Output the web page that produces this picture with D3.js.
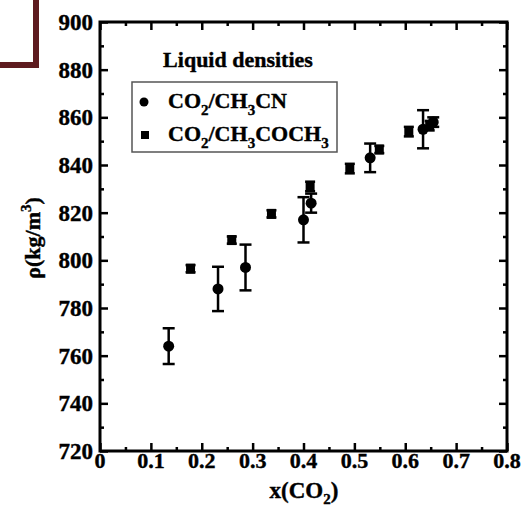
<!DOCTYPE html>
<html><head><meta charset="utf-8">
<script src="https://cdn.jsdelivr.net/npm/d3@7/dist/d3.min.js"></script>
<style>body{margin:0;background:#fff}svg{display:block}text{stroke:#000;stroke-width:0.4px}</style>
</head><body>
<svg id="c" width="526" height="511"></svg>
<script>
// Data: [x(CO2), density, error]
const acnX   = [0.135, 0.232, 0.286, 0.400, 0.415, 0.531, 0.635, 0.655];
const acnY   = [764, 788, 797, 817, 824, 843, 855, 858];
const acnErr = [7.5, 9.3, 9.6, 9.5, 4, 6, 8, 2];
const aceX   = [0.178, 0.259, 0.337, 0.413, 0.491, 0.549, 0.607, 0.648];
const aceY   = [796.5, 808.5, 819.5, 831, 838.5, 846.5, 854, 856.5];
const aceErr = [1.5, 1.5, 1.5, 2, 2, 1.5, 2, 2];
const xTicks = [0, 0.1, 0.2, 0.3, 0.4, 0.5, 0.6, 0.7, 0.8];
const yTicks = [720, 740, 760, 780, 800, 820, 840, 860, 880, 900];

const svg = d3.select("#c");
const L = 100, R = 507, T = 22, B = 451;
const x = d3.scaleLinear().domain([0, 0.8]).range([L, R]);
const y = d3.scaleLinear().domain([720, 900]).range([B, T]);
const font = "'Liberation Serif', 'Times New Roman', serif";

// red box top-left
svg.append("rect").attr("x", -5).attr("y", -5).attr("width", 41).attr("height", 70)
  .attr("fill", "none").attr("stroke", "#5e1b1f").attr("stroke-width", 6);

// axes with inward ticks
const xMinor = d3.range(0.05, 0.8, 0.1);
const yMinor = d3.range(730, 900, 20);
function ax(g, axis) { g.call(axis); g.select(".domain").remove(); g.selectAll("line").attr("stroke", "#000").attr("stroke-width", 2.5); }
ax(svg.append("g").attr("transform", `translate(0,${B})`), d3.axisBottom(x).tickValues(xTicks).tickSize(-8).tickFormat(""));
ax(svg.append("g").attr("transform", `translate(0,${B})`), d3.axisBottom(x).tickValues(xMinor).tickSize(-4).tickFormat(""));
ax(svg.append("g").attr("transform", `translate(0,${T})`), d3.axisTop(x).tickValues(xTicks).tickSize(-8).tickFormat(""));
ax(svg.append("g").attr("transform", `translate(0,${T})`), d3.axisTop(x).tickValues(xMinor).tickSize(-4).tickFormat(""));
ax(svg.append("g").attr("transform", `translate(${L},0)`), d3.axisLeft(y).tickValues(yTicks).tickSize(-8).tickFormat(""));
ax(svg.append("g").attr("transform", `translate(${L},0)`), d3.axisLeft(y).tickValues(yMinor).tickSize(-4).tickFormat(""));
ax(svg.append("g").attr("transform", `translate(${R},0)`), d3.axisRight(y).tickValues(yTicks).tickSize(-8).tickFormat(""));
ax(svg.append("g").attr("transform", `translate(${R},0)`), d3.axisRight(y).tickValues(yMinor).tickSize(-4).tickFormat(""));
svg.append("rect").attr("x", L).attr("y", T).attr("width", R - L).attr("height", B - T)
  .attr("fill", "none").attr("stroke", "#000").attr("stroke-width", 3);

// tick labels
svg.selectAll(".xl").data(xTicks).enter().append("text")
  .attr("x", d => x(d)).attr("y", 468).attr("text-anchor", "middle")
  .attr("font-family", font).attr("font-weight", "bold").attr("font-size", 22)
  .text(d => d === 0 ? "0" : d3.format(".1f")(d));
svg.selectAll(".yl").data(yTicks).enter().append("text")
  .attr("x", 93).attr("y", d => y(d) + 8).attr("text-anchor", "end")
  .attr("font-family", font).attr("font-weight", "bold").attr("font-size", 23)
  .text(d => d);

// axis titles
const xt = svg.append("text").attr("x", 304).attr("y", 498).attr("text-anchor", "middle")
  .attr("font-family", font).attr("font-weight", "bold").attr("font-size", 23);
xt.append("tspan").text("x(CO");
xt.append("tspan").attr("font-size", 15).attr("dy", 6).text("2");
xt.append("tspan").attr("dy", -6).text(")");
const yt = svg.append("text").attr("transform", "translate(40,238) rotate(-90)").attr("text-anchor", "middle")
  .attr("font-family", font).attr("font-weight", "bold").attr("font-size", 22);
yt.append("tspan").text("ρ(kg/m");
yt.append("tspan").attr("font-size", 15).attr("dy", -9).text("3");
yt.append("tspan").attr("dy", 9).text(")");

// error bars
function errBars(xs, ys, es, cap) {
  const g = svg.append("g").attr("stroke", "#000").attr("stroke-width", 2.5);
  xs.forEach((xv, i) => {
    const cx = x(xv), y1 = y(ys[i] + es[i]), y2 = y(ys[i] - es[i]);
    g.append("line").attr("x1", cx).attr("x2", cx).attr("y1", y1).attr("y2", y2);
    g.append("line").attr("x1", cx - cap).attr("x2", cx + cap).attr("y1", y1).attr("y2", y1);
    g.append("line").attr("x1", cx - cap).attr("x2", cx + cap).attr("y1", y2).attr("y2", y2);
  });
}
errBars(acnX, acnY, acnErr, 6);
errBars(aceX, aceY, aceErr, 5);
svg.append("g").selectAll("circle").data(acnX).enter().append("circle")
  .attr("cx", d => x(d)).attr("cy", (d, i) => y(acnY[i])).attr("r", 5.5).attr("fill", "#000");
svg.append("g").selectAll("rect").data(aceX).enter().append("rect")
  .attr("x", d => x(d) - 4.5).attr("y", (d, i) => y(aceY[i]) - 5).attr("width", 9).attr("height", 10).attr("fill", "#000");

// legend
svg.append("text").attr("x", 238).attr("y", 67).attr("text-anchor", "middle")
  .attr("font-family", font).attr("font-weight", "bold").attr("font-size", 22).text("Liquid densities");
svg.append("rect").attr("x", 132).attr("y", 82).attr("width", 205).attr("height", 70)
  .attr("fill", "#fff").attr("stroke", "#555").attr("stroke-width", 1.5);
svg.append("circle").attr("cx", 144).attr("cy", 102).attr("r", 4.5).attr("fill", "#000");
svg.append("rect").attr("x", 141).attr("y", 131).attr("width", 8).attr("height", 8).attr("fill", "#000");
function legText(yb, parts) {
  const t = svg.append("text").attr("x", 168).attr("y", yb)
    .attr("font-family", font).attr("font-weight", "bold").attr("font-size", 22);
  let sub = false;
  parts.forEach(p => {
    if (p.s) { t.append("tspan").attr("font-size", 15).attr("dy", sub ? 0 : 7).text(p.s); sub = true; }
    else { t.append("tspan").attr("dy", sub ? -7 : 0).text(p.t); sub = false; }
  });
}
legText(108, [{t: "CO"}, {s: "2"}, {t: "/CH"}, {s: "3"}, {t: "CN"}]);
legText(141, [{t: "CO"}, {s: "2"}, {t: "/CH"}, {s: "3"}, {t: "COCH"}, {s: "3"}]);
</script>
</body></html>
